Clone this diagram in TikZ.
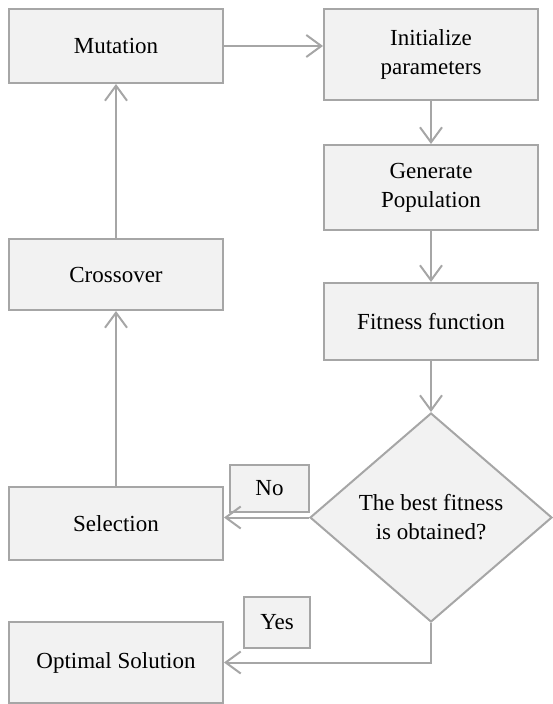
\documentclass[tikz,border=0pt]{standalone}
\usepackage{fontspec}
\setmainfont{Liberation Serif}
\usetikzlibrary{shapes.geometric,arrows.meta}
\definecolor{boxfill}{HTML}{F2F2F2}
\definecolor{boxline}{HTML}{A6A6A6}

\begin{document}
\begin{tikzpicture}[x=1pt, y=-1pt, line width=2pt,
                    block/.style={draw=boxline, fill=boxfill, inner sep=0pt, align=center,
                                  font=\fontsize{23}{29}\selectfont, minimum width=214pt},
                    decision/.style={block, diamond, minimum width=242pt, minimum height=209pt},
                    tag/.style={block, minimum height=48pt},
                    flow/.style={draw=boxline, -{Straight Barb[length=15pt, width=22pt]}}]
  \useasboundingbox (0,0) rectangle (552,704);
  \node[block, minimum height=74pt] (mutation) at (116,46) {Mutation};
  \node[block, minimum height=91pt] (init) at (431,54.5) {Initialize\\parameters};
  \node[block, minimum height=85pt] (generate) at (431,187.5) {Generate\\Population};
  \node[block, minimum height=77pt] (fitness) at (431,321.5) {Fitness function};
  \node[decision] (test) at (431,517.5) {The best fitness\\is obtained?};
  \node[block, minimum height=71pt] (crossover) at (116,274.5) {Crossover};
  \node[block, minimum height=73pt] (selection) at (116,523.5) {Selection};
  \node[block, minimum height=81pt] (optimal) at (116,662.5) {Optimal Solution};
  \node[tag, minimum width=79pt, minimum height=47pt] (no) at (269.5,488.5) {No};
  \node[tag, minimum width=66pt, minimum height=51pt] (yes) at (277,622.5) {Yes};

  \draw[flow] (mutation.east) -- (mutation.east -| init.west);
  \draw[flow] (init.south) -- (generate.north);
  \draw[flow] (generate.south) -- (fitness.north);
  \draw[flow] (fitness.south) -- (test.north);
  \draw[flow] (test.west) -- (test.west -| selection.east);
  \draw[flow] (test.south) |- (optimal.east);
  \draw[flow] (selection.north) -- (crossover.south);
  \draw[flow] (crossover.north) -- (mutation.south);
\end{tikzpicture}
\end{document}
